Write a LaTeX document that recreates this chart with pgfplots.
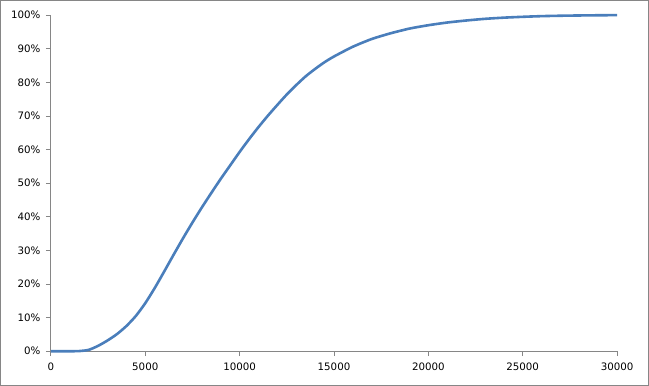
\documentclass[border=0pt]{standalone}
\usepackage{pgfplots}
\pgfplotsset{compat=1.18}
\usepackage{fontspec}
\setmainfont{DejaVu Sans}
\definecolor{linec}{HTML}{4A7EBB}
\definecolor{axc}{HTML}{868686}
\begin{document}
\begin{tikzpicture}
\begin{axis}[
  scale only axis,
  width=566.5bp, height=336.3bp,
  xmin=0, xmax=30000, ymin=0, ymax=100,
  clip=false,
  scaled ticks=false,
  axis x line*=bottom, axis y line*=left,
  axis line style={-, color=axc, line width=0.9bp},
  xtick={0,5000,10000,15000,20000,25000,30000},
  ytick={0,10,20,30,40,50,60,70,80,90,100},
  tick align=outside,
  major tick length=5bp,
  tick style={color=axc, line width=0.9bp},
  /pgf/number format/assume math mode=true,
  /pgf/number format/set thousands separator={},
  xticklabel={\pgfmathprintnumber{\tick}},
  yticklabel={\pgfmathprintnumber{\tick}\%},
  ticklabel style={font=\fontsize{10.3}{12}\selectfont, color=black},
  xticklabel style={yshift=-3bp},
  yticklabel style={xshift=-2bp},
]
\addplot[color=linec, line width=2.6bp, smooth, tension=0.4] coordinates {
(0,0) (1000,0) (1500,0.05) (2000,0.4) (2500,1.6) (3000,3.2) (3500,5.1) (4000,7.5)
(4500,10.5) (5000,14.3) (5500,18.8) (6000,23.7) (6500,28.7) (7000,33.6) (7500,38.3)
(8000,42.8) (8500,47.1) (9000,51.3) (9500,55.3) (10000,59.3) (10500,63.1) (11000,66.7)
(11500,70.1) (12000,73.3) (12500,76.4) (13000,79.2) (13500,81.8) (14000,84.0) (14500,86.0)
(15000,87.7) (16000,90.6) (17000,92.9) (18000,94.6) (19000,96.0) (20000,97.0) (21000,97.8)
(22000,98.4) (23000,98.9) (24000,99.25) (25000,99.5) (26000,99.7) (27000,99.82) (28000,99.9)
(29000,99.96) (30000,100)
};
\draw[axc, line width=0.9bp] ([xshift=-50.5bp,yshift=-34bp]rel axis cs:0,0) rectangle ([xshift=31.5bp,yshift=14.7bp]rel axis cs:1,1);
\end{axis}
\end{tikzpicture}
\end{document}
